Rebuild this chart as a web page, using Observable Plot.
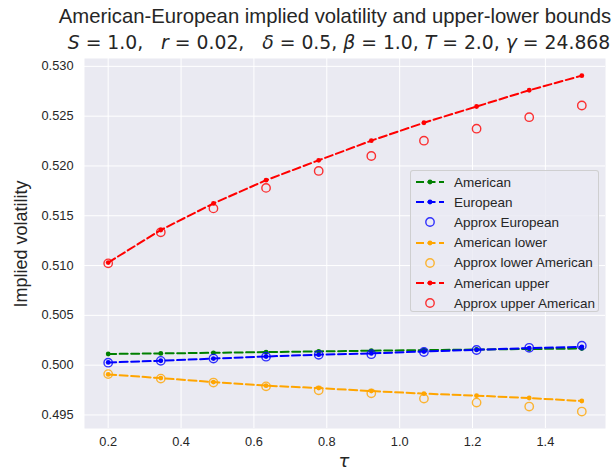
<!DOCTYPE html>
<html><head><meta charset="utf-8">
<script src="https://cdn.jsdelivr.net/npm/d3@7"></script>
<script src="https://cdn.jsdelivr.net/npm/@observablehq/plot@0.6"></script>
<style>
body{margin:0;background:#fff;font-family:"Liberation Sans",Arial,sans-serif;color:#262626;}
#wrap{position:relative;width:616px;height:472px;overflow:hidden;background:#fff}
#title{height:56px;position:relative}
.tl{position:absolute;transform:translateX(-50%);white-space:pre;color:#262626;line-height:1.15}
#t1{left:335px;top:5px;font-family:"Liberation Sans",Arial,sans-serif;font-size:20.3px}
#t2{left:339px;top:32px;font-family:"DejaVu Sans",sans-serif;font-size:18.8px}
#t2 i{font-style:italic}
#ylabel{position:absolute;left:21px;top:244px;transform:translate(-50%,-50%) rotate(-90deg);font-size:18px;white-space:nowrap;line-height:1}
#xlabel{position:absolute;left:344px;top:461px;transform:translate(-50%,-50%);font-size:18px;line-height:1;font-family:"DejaVu Sans",sans-serif;font-style:italic}
#legend{position:absolute;left:410px;top:170px;width:189px;height:142px;background:rgba(234,234,242,0.8);border:1px solid rgba(204,204,204,0.9);border-radius:3px;box-sizing:border-box}
.row{position:absolute;left:0;height:20px;display:flex;align-items:center;font-size:13.5px;white-space:nowrap}
.row span{font-size:13.5px}
.row svg{margin-left:5px;margin-right:10px}
</style></head><body>
<div id="wrap">
 <div id="title">
  <div class="tl" id="t1">American-European implied volatility and upper-lower bounds</div>
  <div class="tl" id="t2"><i>S</i> = 1.0,   <i>r</i> = 0.02,   <i>δ</i> = 0.5, <i>β</i> = 1.0, <i>T</i> = 2.0, <i>γ</i> = 24.868</div>
 </div>
 <div id="chart"></div>
 <div id="ylabel">Implied volatility</div>
 <div id="xlabel">τ</div>
 <div id="legend"></div>
</div>
<script>
const tau = [0.2, 0.3444, 0.4889, 0.6333, 0.7778, 0.9222, 1.0667, 1.2111, 1.3556, 1.5];
const american = [0.50112, 0.50118, 0.50124, 0.50131, 0.50138, 0.50145, 0.50151, 0.50157, 0.50162, 0.50167];
const european = [0.50027, 0.50044, 0.50066, 0.50087, 0.50105, 0.50118, 0.50137, 0.50154, 0.50172, 0.50184];
const approxEuropean = [0.50025, 0.50043, 0.50066, 0.50085, 0.50104, 0.50110, 0.50132, 0.50152, 0.50174, 0.50196];
const americanLower = [0.49907, 0.49870, 0.49830, 0.49794, 0.49770, 0.49740, 0.49714, 0.49694, 0.49670, 0.49640];
const approxLower = [0.49910, 0.49865, 0.49825, 0.49787, 0.49747, 0.49717, 0.49664, 0.49624, 0.49584, 0.49534];
const americanUpper = [0.51030, 0.51357, 0.51624, 0.51857, 0.52057, 0.52254, 0.52434, 0.52597, 0.52760, 0.52907];
const approxUpper = [0.51022, 0.51334, 0.51574, 0.51780, 0.51950, 0.52100, 0.52254, 0.52374, 0.52490, 0.52607];
const xTicks = [0.2, 0.4, 0.6, 0.8, 1.0, 1.2, 1.4];
const yTicks = [0.495, 0.500, 0.505, 0.510, 0.515, 0.520, 0.525, 0.530];

const lineSeries = [
  {name: "American", values: american, color: "green"},
  {name: "European", values: european, color: "blue"},
  {name: "American lower", values: americanLower, color: "orange"},
  {name: "American upper", values: americanUpper, color: "red"}
];
const openSeries = [
  {name: "Approx European", values: approxEuropean, color: "blue"},
  {name: "Approx lower American", values: approxLower, color: "orange"},
  {name: "Approx upper American", values: approxUpper, color: "red"}
];
const toRows = s => tau.map((t, i) => ({tau: t, v: s.values[i]}));

const marks = [
  Plot.frame({fill: "#EAEAF2", stroke: null}),
  Plot.gridX(xTicks, {stroke: "white", strokeOpacity: 1, strokeWidth: 1}),
  Plot.gridY(yTicks, {stroke: "white", strokeOpacity: 1, strokeWidth: 1}),
  Plot.axisX(xTicks, {tickSize: 0, tickPadding: 8, label: null, tickFormat: d3.format(".1f"), fontSize: 12.8, fill: "#262626"}),
  Plot.axisY(yTicks, {tickSize: 0, tickPadding: 11, label: null, tickFormat: d3.format(".3f"), fontSize: 12.8, fill: "#262626"})
];
const order = [
  ["line", 0], ["line", 1], ["open", 0], ["line", 2], ["open", 1], ["line", 3], ["open", 2]
];
for (const [kind, idx] of order) {
  if (kind === "line") {
    const s = lineSeries[idx];
    const rows = toRows(s);
    marks.push(Plot.line(rows, {x: "tau", y: "v", stroke: s.color, strokeWidth: 2, strokeDasharray: "8,3.5"}));
    marks.push(Plot.dot(rows, {x: "tau", y: "v", fill: s.color, r: 2.4, stroke: null}));
  } else {
    const s = openSeries[idx];
    marks.push(Plot.dot(toRows(s), {x: "tau", y: "v", stroke: s.color, strokeOpacity: 0.8, fill: "none", r: 4.2, strokeWidth: 1.4}));
  }
}

const chart = Plot.plot({
  width: 616, height: 416,
  marginTop: 2, marginBottom: 44, marginLeft: 84, marginRight: 11,
  x: {domain: [0.135, 1.565]},
  y: {domain: [0.49364, 0.53079]},
  style: {fontFamily: "Liberation Sans, Arial, sans-serif", fontSize: "12.8px", background: "transparent", color: "#262626"},
  marks
});
document.getElementById("chart").appendChild(chart);

// legend
const legendItems = [
  {label: "American", type: "line", color: "green"},
  {label: "European", type: "line", color: "blue"},
  {label: "Approx European", type: "open", color: "blue"},
  {label: "American lower", type: "line", color: "orange"},
  {label: "Approx lower American", type: "open", color: "orange"},
  {label: "American upper", type: "line", color: "red"},
  {label: "Approx upper American", type: "open", color: "red"}
];
const leg = document.getElementById("legend");
legendItems.forEach((it, i) => {
  const row = document.createElement("div");
  row.className = "row";
  row.style.top = (1 + i * 20.2) + "px";
  const ns = "http://www.w3.org/2000/svg";
  const svg = document.createElementNS(ns, "svg");
  svg.setAttribute("width", 28); svg.setAttribute("height", 12);
  if (it.type === "line") {
    const l = document.createElementNS(ns, "line");
    l.setAttribute("x1", 0); l.setAttribute("x2", 28); l.setAttribute("y1", 6); l.setAttribute("y2", 6);
    l.setAttribute("stroke", it.color); l.setAttribute("stroke-width", 2); l.setAttribute("stroke-dasharray", "8,3.5");
    svg.appendChild(l);
    const c = document.createElementNS(ns, "circle");
    c.setAttribute("cx", 14); c.setAttribute("cy", 6); c.setAttribute("r", 2.4); c.setAttribute("fill", it.color);
    svg.appendChild(c);
  } else {
    const c = document.createElementNS(ns, "circle");
    c.setAttribute("cx", 14); c.setAttribute("cy", 6); c.setAttribute("r", 4.2);
    c.setAttribute("fill", "none"); c.setAttribute("stroke", it.color); c.setAttribute("stroke-width", 1.4); c.setAttribute("stroke-opacity", 0.8);
    svg.appendChild(c);
  }
  row.appendChild(svg);
  const span = document.createElement("span");
  span.textContent = it.label;
  row.appendChild(span);
  leg.appendChild(row);
});
</script>
</body></html>
